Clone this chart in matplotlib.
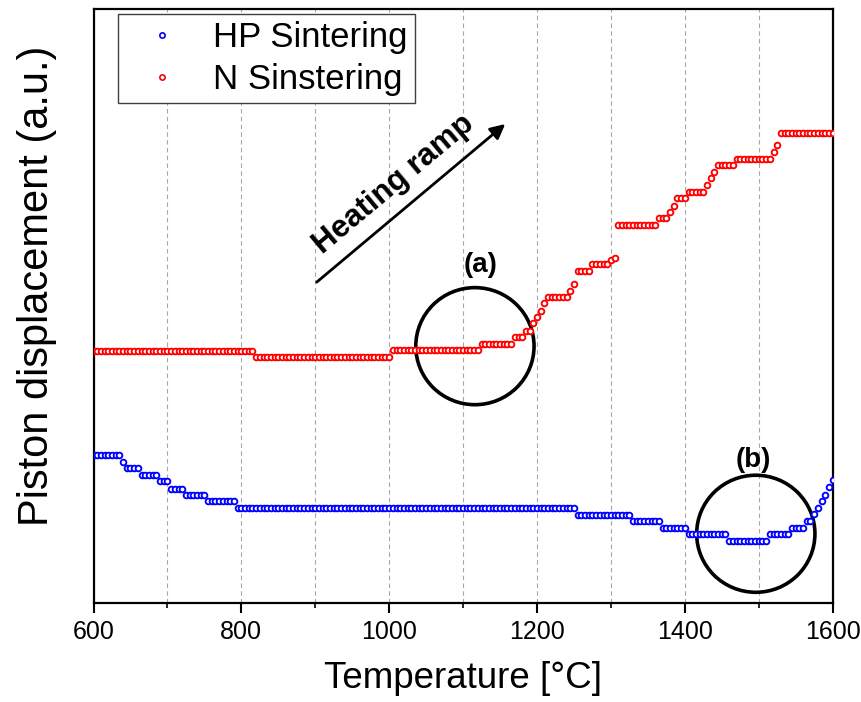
import numpy as np
import matplotlib
matplotlib.use("Agg")
import matplotlib.pyplot as plt
from matplotlib.patches import Ellipse
from matplotlib.ticker import MultipleLocator

plt.rcParams["font.family"] = ["Liberation Sans", "DejaVu Sans"]

# Logged temperatures (°C), one reading every 5 °C
temperature = np.arange(600, 1601, 5)

# Hot-pressing run: temperature at which each displacement level starts, and the level (a.u.)
hp_step_temp = [600, 640, 645, 665, 690, 705, 725, 755, 795, 1255, 1330, 1370,
                1405, 1460, 1515, 1545, 1565, 1575, 1580, 1585, 1590, 1595, 1600]
hp_step_disp = [1.487, 1.413, 1.350, 1.287, 1.220, 1.147, 1.087, 1.020, 0.955,
                0.887, 0.820, 0.755, 0.690, 0.623, 0.690, 0.753, 0.823, 0.890,
                0.957, 1.023, 1.080, 1.163, 1.230]

# Normal sintering run
n_step_temp = [600, 820, 1005, 1125, 1170, 1185, 1195, 1200, 1205, 1210, 1215,
               1245, 1250, 1255, 1275, 1300, 1305, 1310, 1365, 1380, 1385, 1390,
               1405, 1430, 1435, 1440, 1445, 1470, 1520, 1525, 1530]
n_step_disp = [2.525, 2.465, 2.530, 2.590, 2.660, 2.720, 2.800, 2.860, 2.920,
               3.000, 3.060, 3.125, 3.190, 3.325, 3.387, 3.430, 3.455, 3.780,
               3.847, 3.913, 3.973, 4.047, 4.113, 4.180, 4.250, 4.310, 4.380,
               4.440, 4.510, 4.580, 4.703]

series_labels = ["HP Sintering", "N Sinstering"]
x_ticks = [600, 800, 1000, 1200, 1400, 1600]


def readings(step_temp, step_disp):
    """Displacement reading at every logged temperature (held between steps)."""
    idx = np.searchsorted(np.asarray(step_temp), temperature, side="right") - 1
    return np.asarray(step_disp)[idx]


hp_disp = readings(hp_step_temp, hp_step_disp)
n_disp = readings(n_step_temp, n_step_disp)

fig = plt.figure(figsize=(8.61, 7.02), dpi=100)
ax = fig.add_axes([0.1086, 0.1406, 0.8585, 0.8459])

mk = dict(ls="none", marker="o", ms=4.1, mew=1.35, mfc="white", zorder=4)
h_hp, = ax.plot(temperature, hp_disp, mec="#0000ff", label=series_labels[0], **mk)
h_n, = ax.plot(temperature, n_disp, mec="#ff0000", label=series_labels[1], **mk)

ax.set_xlim(600, 1600)
ax.set_ylim(0, 5.935)
ax.set_xticks(x_ticks)
ax.xaxis.set_minor_locator(MultipleLocator(100))
ax.set_yticks([])

ax.grid(axis="x", which="both", ls=(0, (4, 3)), color="#a6a6a6", lw=0.8, zorder=0)
ax.set_axisbelow(True)

for sp in ax.spines.values():
    sp.set_linewidth(1.6)

ax.tick_params(axis="x", which="major", direction="out", length=7.2, width=1.5,
               labelsize=18, pad=5, top=False)
ax.tick_params(axis="x", which="minor", direction="out", length=3.6, width=1.2,
               top=False)
ax.tick_params(axis="y", left=False, right=False)

ax.set_xlabel("Temperature [°C]", fontsize=26.5)
ax.xaxis.set_label_coords(0.5, -0.097)
ax.set_ylabel("Piston displacement (a.u.)", fontsize=30, va="center")
ax.yaxis.set_label_coords(-0.077, 0.535)

# Highlighted regions
for (cx, cy), tag, (tx, ty) in [((1116, 2.57), "(a)", (1123, 3.38)),
                                ((1496, 0.695), "(b)", (1492, 1.43))]:
    ax.add_patch(Ellipse((cx, cy), width=160, height=1.17, fill=False,
                         ec="black", lw=2.6, zorder=3))
    ax.text(tx, ty, tag, fontsize=20, fontweight="bold", ha="center", va="center")

# Heating ramp arrow
ax.annotate("", xy=(1157, 4.79), xytext=(902, 3.21),
            arrowprops=dict(arrowstyle="-|>", color="black", lw=2,
                            mutation_scale=22, shrinkA=0, shrinkB=0))
ax.text(1006, 4.19, "Heating ramp", fontsize=22.5, fontweight="bold",
        rotation=40, rotation_mode="anchor", ha="center", va="center")

leg = ax.legend(handles=[h_hp, h_n], loc="upper left",
                bbox_to_anchor=(118 / 861, 1 - 14 / 702),
                bbox_transform=fig.transFigure, borderaxespad=0,
                fontsize=25, numpoints=1, handlelength=2.14, handletextpad=0.4,
                borderpad=0.2, labelspacing=0.27, fancybox=False,
                framealpha=1, edgecolor="#404040")
leg.get_frame().set_linewidth(1.0)
for h in leg.legend_handles:
    h.set_markersize(3.8)
    h.set_markeredgewidth(1.2)

fig.savefig("out.png", dpi=100)
